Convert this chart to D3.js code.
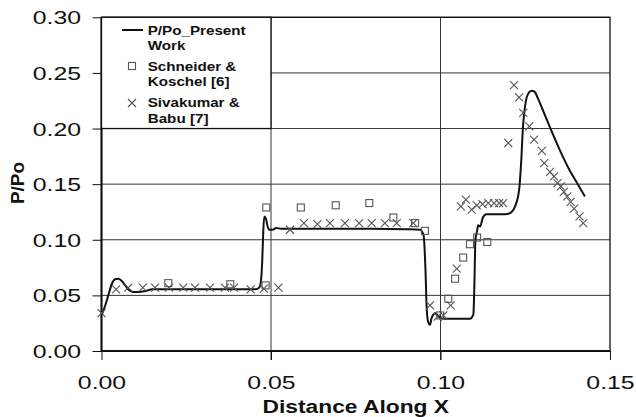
<!DOCTYPE html>
<html>
<head>
<meta charset="utf-8">
<script src="https://cdn.jsdelivr.net/npm/d3@7"></script>
<style>
  html, body { margin: 0; padding: 0; background: #fff; }
  svg { display: block; }
  text { font-family: "Liberation Sans", Arial, sans-serif; fill: #111; }
</style>
</head>
<body>
<svg id="chart" width="636" height="417"></svg>
<script>
// ---- data ----
const xTicks = [0.00, 0.05, 0.10, 0.15];
const yTicks = [0.00, 0.05, 0.10, 0.15, 0.20, 0.25, 0.30];
const legendLabels = [["P/Po_Present", "Work"], ["Schneider &", "Koschel [6]"], ["Sivakumar &", "Babu [7]"]];
const xTitle = "Distance Along X";
const yTitle = "P/Po";

// present work (line): [x, P/Po]
const presentWork = [
  [0.0000,0.032],[0.0010,0.040],[0.0020,0.050],[0.0030,0.060],[0.0040,0.0645],[0.0050,0.065],
  [0.0060,0.063],[0.0070,0.059],[0.0080,0.055],[0.0094,0.053],[0.0110,0.053],[0.0130,0.054],
  [0.0150,0.0555],[0.0200,0.0555],[0.0300,0.0555],[0.0400,0.0555],[0.0455,0.0555],[0.0465,0.057],
  [0.0470,0.062],[0.0474,0.080],[0.0477,0.106],[0.0480,0.121],[0.0485,0.119],[0.0490,0.112],
  [0.0495,0.109],[0.0505,0.109],[0.0515,0.1105],[0.0530,0.110],[0.0600,0.110],[0.0700,0.110],
  [0.0800,0.110],[0.0900,0.1095],[0.0940,0.109],[0.0950,0.104],[0.0956,0.070],[0.0959,0.040],
  [0.0963,0.027],[0.0969,0.0235],[0.0974,0.030],[0.0985,0.034],[0.0995,0.031],[0.1008,0.029],
  [0.1050,0.029],[0.1087,0.029],[0.1097,0.033],[0.1100,0.060],[0.1103,0.100],[0.1108,0.108],
  [0.1111,0.113],[0.1117,0.112],[0.1125,0.120],[0.1135,0.123],[0.1160,0.123],[0.1190,0.123],
  [0.1205,0.124],[0.1220,0.130],[0.1232,0.145],[0.1238,0.170],[0.1243,0.200],[0.1252,0.225],
  [0.1260,0.232],[0.1269,0.234],[0.1278,0.233],[0.1286,0.228],[0.1300,0.218],[0.1323,0.201],
  [0.1350,0.182],[0.1380,0.163],[0.1405,0.150],[0.1426,0.139]
];

// Schneider & Koschel [6] (squares)
const schneider = [
  [0.0197,0.061],[0.0380,0.060],[0.0484,0.059],[0.0486,0.129],[0.0588,0.129],[0.0691,0.131],
  [0.0790,0.133],[0.0861,0.120],[0.0925,0.115],[0.0954,0.108],[0.0999,0.032],[0.1023,0.047],
  [0.1043,0.065],[0.1067,0.084],[0.1087,0.096],[0.1108,0.102],[0.1138,0.098]
];

// Sivakumar & Babu [7] (crosses)
const sivakumar = [
  [0.0000,0.034],[0.0043,0.0555],[0.0079,0.057],[0.0122,0.057],[0.0158,0.057],[0.0199,0.057],
  [0.0241,0.057],[0.0276,0.057],[0.0320,0.057],[0.0364,0.057],[0.0391,0.057],[0.0440,0.0555],
  [0.0479,0.056],[0.0522,0.057],
  [0.0556,0.109],[0.0597,0.115],[0.0637,0.114],[0.0674,0.115],[0.0718,0.115],[0.0760,0.115],
  [0.0797,0.115],[0.0836,0.115],[0.0871,0.115],[0.0920,0.115],
  [0.0969,0.041],[0.0992,0.031],[0.1008,0.032],[0.1030,0.041],[0.1048,0.074],
  [0.1060,0.130],[0.1075,0.136],[0.1092,0.127],[0.1107,0.131],[0.1124,0.132],[0.1141,0.133],
  [0.1158,0.133],[0.1173,0.133],[0.1185,0.133],[0.1200,0.187],[0.1217,0.239],[0.1232,0.228],
  [0.1244,0.214],[0.1262,0.202],[0.1276,0.190],[0.1299,0.180],[0.1306,0.169],[0.1323,0.161],
  [0.1335,0.157],[0.1345,0.151],[0.1355,0.148],[0.1364,0.143],[0.1374,0.139],[0.1384,0.134],
  [0.1394,0.128],[0.1410,0.121],[0.1421,0.115]
];

// ---- layout ----
const svg = d3.select("#chart");
const L = 101.5, R = 610, T = 17.3, B = 351;
const x = d3.scaleLinear().domain([0, 0.15]).range([L, R]);
const y = d3.scaleLinear().domain([0, 0.30]).range([B, T]);
const ink = "#111", markerInk = "#555";

// gridlines
svg.append("g").selectAll("line.h").data(yTicks).join("line")
  .attr("x1", L).attr("x2", R).attr("y1", d => y(d)).attr("y2", d => y(d))
  .attr("stroke", "#333").attr("stroke-width", 1);
svg.append("g").selectAll("line.v").data(xTicks.slice(1, -1)).join("line")
  .attr("x1", d => x(d)).attr("x2", d => x(d)).attr("y1", T).attr("y2", B + 9)
  .attr("stroke", "#333").attr("stroke-width", 1);

// frame
svg.append("rect").attr("x", L).attr("y", T).attr("width", R - L).attr("height", B - T)
  .attr("fill", "none").attr("stroke", ink).attr("stroke-width", 1.3);
svg.append("line").attr("x1", L).attr("x2", L).attr("y1", T).attr("y2", B)
  .attr("stroke", ink).attr("stroke-width", 2);
svg.append("line").attr("x1", L).attr("x2", R).attr("y1", B).attr("y2", B)
  .attr("stroke", ink).attr("stroke-width", 2);

// axes
const yAxis = svg.append("g").attr("transform", `translate(${L},0)`)
  .call(d3.axisLeft(y).tickValues(yTicks).tickFormat(d3.format(".2f")).tickSize(9).tickSizeOuter(0));
const xAxis = svg.append("g").attr("transform", `translate(0,${B})`)
  .call(d3.axisBottom(x).tickValues(xTicks).tickFormat(d3.format(".2f")).tickSize(9).tickSizeOuter(0));
[yAxis, xAxis].forEach(g => {
  g.select(".domain").remove();
  g.selectAll(".tick line").attr("stroke", ink).attr("stroke-width", 1);
  g.selectAll("text").attr("font-size", 18).attr("fill", ink)
    .style("font-family", '"Liberation Sans", Arial, sans-serif');
});
const sx = 1.38;
yAxis.selectAll("text").attr("transform", `scale(${sx},1)`).attr("x", -(L - 81) / sx).attr("dy", "0.36em");
xAxis.selectAll("text").attr("transform", `scale(${sx},1)`).attr("y", 38).attr("dy", 0);

// axis titles
svg.append("text").attr("transform", `translate(${(L + R) / 2},413) scale(1.2,1)`)
  .attr("text-anchor", "middle").attr("font-size", 19).attr("font-weight", "bold").text(xTitle);
svg.append("text").attr("transform", `translate(24,183) rotate(-90)`)
  .attr("text-anchor", "middle").attr("font-size", 19).attr("font-weight", "bold").text(yTitle);

// data: line
const lineGen = d3.line().x(d => x(d[0])).y(d => y(d[1])).curve(d3.curveMonotoneX);
svg.append("path").datum(presentWork).attr("d", lineGen)
  .attr("fill", "none").attr("stroke", ink).attr("stroke-width", 2).attr("stroke-linejoin", "round");

// squares
const sq = 7;
svg.append("g").selectAll("rect").data(schneider).join("rect")
  .attr("x", d => x(d[0]) - sq / 2).attr("y", d => y(d[1]) - sq / 2)
  .attr("width", sq).attr("height", sq)
  .attr("fill", "none").attr("stroke", markerInk).attr("stroke-width", 1.1);

// crosses
const cs = 4;
const crossPath = (cx, cy) => `M${cx - cs},${cy - cs}L${cx + cs},${cy + cs}M${cx - cs},${cy + cs}L${cx + cs},${cy - cs}`;
svg.append("g").selectAll("path").data(sivakumar).join("path")
  .attr("d", d => crossPath(x(d[0]), y(d[1])))
  .attr("fill", "none").attr("stroke", markerInk).attr("stroke-width", 1.1);

// legend
const lg = svg.append("g");
lg.append("rect").attr("x", L).attr("y", T).attr("width", x(0.05) - L).attr("height", y(0.20) - T)
  .attr("fill", "#fff").attr("stroke", ink).attr("stroke-width", 1.3);
lg.append("line").attr("x1", 122).attr("x2", 143).attr("y1", 30).attr("y2", 30)
  .attr("stroke", ink).attr("stroke-width", 2);
lg.append("rect").attr("x", 132 - sq / 2).attr("y", 66 - sq / 2).attr("width", sq).attr("height", sq)
  .attr("fill", "none").attr("stroke", markerInk).attr("stroke-width", 1.1);
lg.append("path").attr("d", crossPath(132, 103)).attr("fill", "none")
  .attr("stroke", markerInk).attr("stroke-width", 1.1);
const baselines = [[35, 49.5], [71, 86], [107, 122.5]];
legendLabels.forEach((lines, i) => {
  lines.forEach((t, j) => {
    lg.append("text").attr("transform", `translate(147.7,${baselines[i][j]}) scale(1.17,1)`)
      .attr("font-size", 13).attr("font-weight", "bold").text(t);
  });
});
</script>
</body>
</html>
